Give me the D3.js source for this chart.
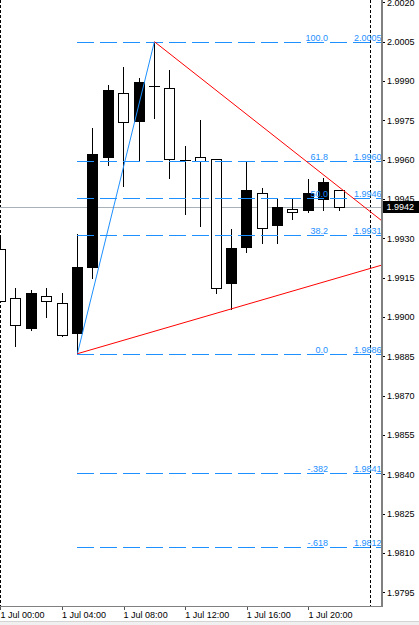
<!DOCTYPE html>
<html><head><meta charset="utf-8">
<script src="https://cdn.jsdelivr.net/npm/d3@7/dist/d3.min.js"></script>
<style>
html,body{margin:0;padding:0;background:#fff;}
svg{display:block;font-family:"Liberation Sans",Arial,sans-serif;}
</style></head>
<body>
<script>
// ---- data ----
const hours = [0,1,2,3,4,5,6,7,8,9,10,11,12,13,14,15,16,17,18,19,20,21,22];
const open  = [1.99259,1.99071,1.98958,1.99080,1.99052,1.98940,1.99191,1.99611,1.99853,1.99749,1.99882,1.99872,1.99598,1.99611,1.99601,1.99131,1.99268,1.99472,1.99351,1.99411,1.99408,1.99449,1.99483];
const high  = [1.99306,1.99112,1.99103,1.99112,1.99093,1.99315,1.99722,1.99885,1.99955,1.99910,2.00050,1.99942,1.99652,1.99751,1.99601,1.99336,1.99592,1.99491,1.99453,1.99453,1.99525,1.99529,1.99485];
const low   = [1.99062,1.98889,1.98950,1.98999,1.98928,1.98860,1.99148,1.99580,1.99500,1.99599,1.99760,1.99529,1.99392,1.99348,1.99090,1.99031,1.99249,1.99281,1.99281,1.99373,1.99402,1.99408,1.99408];
const close = [1.99062,1.98970,1.99092,1.99062,1.98930,1.99191,1.99623,1.99866,1.99743,1.99895,1.99880,1.99601,1.99598,1.99595,1.99110,1.99262,1.99484,1.99338,1.99421,1.99402,1.99472,1.99514,1.99420];

const yTicks = [2.0020,2.0005,1.9990,1.9975,1.9960,1.9945,1.9930,1.9915,1.9900,1.9885,1.9870,1.9855,1.9840,1.9825,1.9810,1.9795];
const xTickHours = [0,4,8,12,16,20];
const separatorHours = [0,24];

const fibLevels = [100.0, 61.8, 50.0, 38.2, 0.0, -38.2, -61.8];
const fibLabels = ["100.0","61.8","50.0","38.2","0.0","-.382","-.618"];
const fibLow = {h:5, p:1.9886};
const fibHigh = {h:10, p:2.0005};

const trendA = [{h:10, p:2.0005}, {h:22, p:1.99495}];
const trendB = [{h:5, p:1.9886}, {h:15, p:1.99031}];
const lastPrice = 1.9942;

// ---- layout ----
const W = 419, H = 625;
const plotR = 382, plotB = 606;
const t0 = Date.UTC(2008,6,1,0);
const toDate = h => new Date(t0 + h*3600e3);

const x = d3.scaleUtc().domain([toDate(0), toDate(24)]).range([0.4, 370]);
const y = d3.scaleLinear().domain([1.9795, 2.0020]).range([592.3, 2.37]);

const svg = d3.select("body").append("svg").attr("width", W).attr("height", H);

svg.append("defs").append("clipPath").attr("id","plot")
  .append("rect").attr("x",0).attr("y",0).attr("width",plotR).attr("height",plotB);

const plot = svg.append("g").attr("clip-path","url(#plot)");

// separators
plot.selectAll(".sep").data(separatorHours).join("line")
  .attr("x1", d => Math.floor(x(toDate(d)))+0.5).attr("x2", d => Math.floor(x(toDate(d)))+0.5)
  .attr("y1",0).attr("y2",plotB)
  .attr("stroke","#000").attr("stroke-dasharray","3,2").attr("stroke-width",1);

// bid line
plot.append("line").attr("x1",0).attr("x2",plotR)
  .attr("y1", Math.round(y(lastPrice))+0.5).attr("y2", Math.round(y(lastPrice))+0.5)
  .attr("stroke","#a8b0b8").attr("stroke-width",1);

// candles
const candles = hours.map((h,i)=>({h, o:open[i], hi:high[i], lo:low[i], c:close[i]}));
const cg = plot.append("g").attr("shape-rendering","crispEdges");
candles.forEach(d=>{
  const cx = Math.floor(x(toDate(d.h)));
  const g = cg.append("g");
  g.append("line").attr("x1",cx+0.5).attr("x2",cx+0.5)
    .attr("y1",Math.round(y(d.hi))).attr("y2",Math.round(y(d.lo))+1)
    .attr("stroke","#000");
  const top = Math.round(y(Math.max(d.o,d.c)));
  const bot = Math.round(y(Math.min(d.o,d.c)));
  if (bot - top < 1) {
    g.append("line").attr("x1",cx-5).attr("x2",cx+6)
      .attr("y1",top+0.5).attr("y2",top+0.5).attr("stroke","#000");
  } else {
    g.append("rect").attr("x",cx-4.5).attr("y",top+0.5)
      .attr("width",10).attr("height",bot-top)
      .attr("fill", d.c > d.o ? "#000" : "#fff").attr("stroke","#000");
  }
});

// fib levels
const fibPrice = l => fibLow.p + (fibHigh.p - fibLow.p) * l/100;
const fx0 = Math.floor(x(toDate(fibLow.h)));
const blue = "#1e90ff";
fibLevels.forEach((l,i)=>{
  const yy = Math.round(y(fibPrice(l)))+0.5;
  plot.append("line").attr("x1",fx0).attr("x2",plotR).attr("y1",yy).attr("y2",yy)
    .attr("stroke",blue).attr("stroke-width",1).attr("stroke-dasharray","17,6")
    .attr("shape-rendering","crispEdges");
  plot.append("text").attr("x",328).attr("y",yy-2).attr("text-anchor","end")
    .attr("font-size","9px").attr("fill",blue).text(fibLabels[i]);
  plot.append("text").attr("x",381.5).attr("y",yy-2).attr("text-anchor","end")
    .attr("font-size","9px").attr("fill",blue).text(fibPrice(l).toFixed(4));
});

// fib base line
plot.append("line")
  .attr("x1", x(toDate(fibLow.h))).attr("y1", y(fibLow.p))
  .attr("x2", x(toDate(fibHigh.h))).attr("y2", y(fibHigh.p))
  .attr("stroke",blue).attr("stroke-width",1);

// trend rays
function ray(pts){
  const x1 = x(toDate(pts[0].h)), y1 = y(pts[0].p);
  const x2 = x(toDate(pts[1].h)), y2 = y(pts[1].p);
  const s = (y2-y1)/(x2-x1);
  plot.append("line").attr("x1",x1).attr("y1",y1)
    .attr("x2",plotR).attr("y2", y1 + s*(plotR-x1))
    .attr("stroke","#ff0000").attr("stroke-width",1);
}
ray(trendA); ray(trendB);

// right axis
const ya = svg.append("g").attr("transform",`translate(${plotR},0)`)
  .call(d3.axisRight(y).tickValues(yTicks).tickFormat(d3.format(".4f")).tickSize(3).tickPadding(2));
ya.select(".domain").remove();
ya.selectAll(".tick line").attr("stroke","#000").attr("shape-rendering","crispEdges");
ya.selectAll("text").attr("font-size","9px").attr("fill","#000").attr("font-family",null);

// frame lines
svg.append("line").attr("x1",plotR).attr("x2",plotR).attr("y1",0).attr("y2",plotB+1)
  .attr("stroke","#808080").attr("stroke-width",2);
svg.append("line").attr("x1",0).attr("x2",plotR).attr("y1",plotB+0.5).attr("y2",plotB+0.5)
  .attr("stroke","#808080").attr("stroke-width",1);

// x axis
const xa = svg.append("g").attr("transform",`translate(0,${plotB+1})`)
  .call(d3.axisBottom(x).tickValues(xTickHours.map(toDate))
    .tickFormat(d3.utcFormat("%-d %b %H:%M")).tickSize(3).tickPadding(2));
xa.select(".domain").remove();
xa.selectAll(".tick line").attr("stroke","#555").attr("shape-rendering","crispEdges");
xa.selectAll("text").attr("font-size","9px").attr("fill","#000").attr("text-anchor","start")
  .attr("font-family",null).attr("x",-0.5);

// price box
const py = y(lastPrice);
svg.append("rect").attr("x",383).attr("y",Math.round(py)-6).attr("width",36).attr("height",12).attr("fill","#000");
svg.append("text").attr("x",386.5).attr("y",py+3.5).attr("font-size","9px").attr("fill","#fff").text(lastPrice.toFixed(4));

// bottom strip
svg.append("rect").attr("x",0).attr("y",621).attr("width",W).attr("height",4).attr("fill","#f0f0f0");
svg.append("line").attr("x1",0).attr("x2",W).attr("y1",621.5).attr("y2",621.5).attr("stroke","#d4d4d4");
</script>
</body></html>
